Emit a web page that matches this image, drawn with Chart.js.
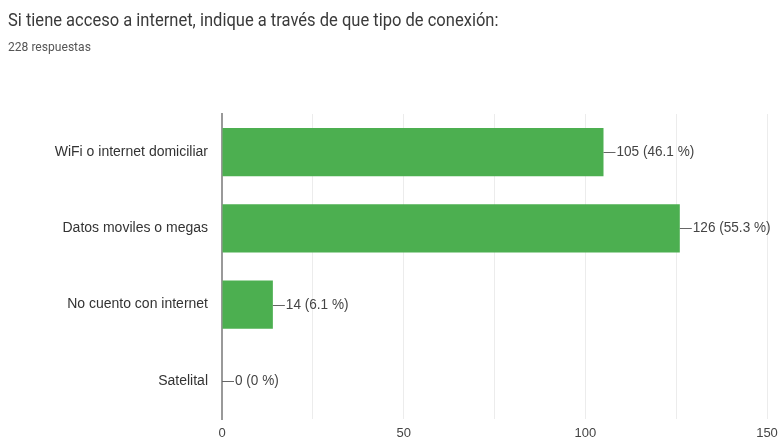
<!DOCTYPE html>
<html>
<head>
<meta charset="utf-8">
<script src="https://cdn.jsdelivr.net/npm/chart.js@4/dist/chart.umd.min.js"></script>
<style>
  html, body { margin: 0; padding: 0; background: #fff; }
  #wrap { position: relative; width: 781px; height: 447px; overflow: hidden; }
  #chart { position: absolute; left: 0; top: 0; }
  .txt { position: absolute; left: 8px; white-space: nowrap; transform-origin: left center; }
  #title { top: 8px; font: 19px Roboto, "Liberation Sans", sans-serif; color: #3a3a3a; transform: scaleX(0.87); }
  #sub { top: 39px; font: 13px Roboto, "Liberation Sans", sans-serif; color: #555; transform: scaleX(0.93); }
</style>
</head>
<body>
<div id="wrap">
  <canvas id="chart" width="781" height="447"></canvas>
  <div id="title" class="txt">Si tiene acceso a internet, indique a través de que tipo de conexión:</div>
  <div id="sub" class="txt">228 respuestas</div>
</div>
<script>
const categories = ["WiFi o internet domiciliar", "Datos moviles o megas", "No cuento con internet", "Satelital"];
const counts = [105, 126, 14, 0];
const percents = ["46.1", "55.3", "6.1", "0"];
const xTicks = [0, 50, 100, 150];

// Leader line plus "count (pct %)" label at the end of each bar
const valueLabels = {
  id: 'valueLabels',
  afterDatasetsDraw(chart) {
    const ctx = chart.ctx;
    const meta = chart.getDatasetMeta(0);
    ctx.save();
    ctx.font = '14px "Liberation Sans", Arial, sans-serif';
    ctx.fillStyle = '#444';
    ctx.strokeStyle = '#666';
    ctx.lineWidth = 1;
    ctx.textBaseline = 'middle';
    meta.data.forEach((bar, i) => {
      const x = bar.x, y = Math.round(bar.y) + 0.5;
      ctx.beginPath();
      ctx.moveTo(x, y);
      ctx.lineTo(x + 12, y);
      ctx.stroke();
      ctx.save();
      ctx.translate(x + 13, y);
      ctx.scale(0.97, 1);
      ctx.fillText(counts[i] + ' (' + percents[i] + ' %)', 0, 0);
      ctx.restore();
    });
    ctx.restore();
  }
};

new Chart(document.getElementById('chart'), {
  type: 'bar',
  data: {
    labels: categories,
    datasets: [{
      data: counts,
      backgroundColor: '#4caf50',
      borderWidth: 0,
      barPercentage: 0.7,
      categoryPercentage: 0.9
    }]
  },
  plugins: [valueLabels],
  options: {
    indexAxis: 'y',
    responsive: false,
    animation: false,
    layout: { padding: { top: 114, right: 14, left: 0, bottom: 0 } },
    plugins: { legend: { display: false }, tooltip: { enabled: false } },
    scales: {
      x: {
        min: 0, max: 150,
        afterBuildTicks(scale) {
          scale.ticks = [];
          for (let v = 0; v <= 150; v += 25) scale.ticks.push({ value: v });
        },
        afterFit(scale) {
          scale.height = 28;
          scale.paddingRight = 0;
          scale.paddingLeft = 0;
        },
        grid: { color: '#ececec', drawTicks: false },
        border: { display: false },
        ticks: {
          padding: 7,
          color: '#444',
          font: { family: '"Liberation Sans", Arial, sans-serif', size: 13 },
          callback: (v) => xTicks.includes(v) ? String(v) : ''
        }
      },
      y: {
        afterFit(scale) { scale.width = 222; },
        grid: { display: false, drawTicks: false },
        border: { display: true, color: '#999', width: 2 },
        ticks: {
          padding: 14,
          color: '#333',
          font: { family: '"Liberation Sans", Arial, sans-serif', size: 14 }
        }
      }
    }
  }
});
</script>
</body>
</html>
